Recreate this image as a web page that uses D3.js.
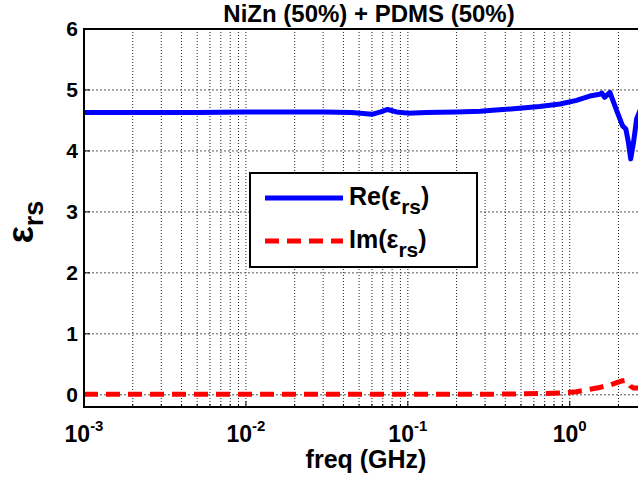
<!DOCTYPE html>
<html>
<head>
<meta charset="utf-8">
<script src="https://cdn.jsdelivr.net/npm/d3@7.9.0/dist/d3.min.js"></script>
<style>
  body { margin: 0; background: #fff; }
  svg { display: block; font-family: "Liberation Sans", Arial, sans-serif; font-weight: bold; }
</style>
</head>
<body>
<svg width="638" height="484"></svg>
<script>
const freq = [0.001, 0.002, 0.005, 0.01, 0.02, 0.03, 0.045, 0.06, 0.068, 0.075, 0.085, 0.1, 0.13, 0.2, 0.28, 0.35, 0.49, 0.65, 0.87, 1.1, 1.33, 1.53, 1.58, 1.64, 1.77, 1.95, 2.12, 2.22, 2.3, 2.38, 2.48, 2.59, 2.8, 3.0];
const reEps = [4.63, 4.63, 4.63, 4.64, 4.64, 4.64, 4.63, 4.60, 4.64, 4.68, 4.64, 4.62, 4.63, 4.64, 4.65, 4.67, 4.70, 4.73, 4.77, 4.83, 4.90, 4.93, 4.95, 4.88, 4.96, 4.66, 4.41, 4.36, 4.15, 3.87, 4.15, 4.53, 4.75, 4.82];
const imEps = [0.01, 0.01, 0.01, 0.01, 0.01, 0.01, 0.01, 0.01, 0.01, 0.01, 0.01, 0.01, 0.01, 0.01, 0.01, 0.01, 0.015, 0.02, 0.03, 0.05, 0.09, 0.12, 0.13, 0.14, 0.16, 0.2, 0.23, 0.24, 0.2, 0.14, 0.11, 0.11, 0.12, 0.14];
const yTicks = [0, 1, 2, 3, 4, 5, 6];
const xTicks = [0.001, 0.01, 0.1, 1];
const xExp = ['-3', '-2', '-1', '0'];

const svg = d3.select('svg');
const m = { left: 84, top: 29, right: 647, bottom: 407 };

const x = d3.scaleLog().domain([0.001, 3]).range([m.left, m.right]);
const y = d3.scaleLinear().domain([-0.2, 6]).range([m.bottom, m.top]);

// grid
let minor = [];
[0.001, 0.01, 0.1, 1].forEach(d => {
  for (let k = 1; k <= 9; k++) if (d * k <= 3) minor.push(d * k);
});
svg.append('g').selectAll('line').data(minor.filter(d => d > 0.001)).join('line')
  .attr('x1', d => x(d)).attr('x2', d => x(d))
  .attr('y1', m.top).attr('y2', m.bottom)
  .attr('stroke', '#222').attr('stroke-width', 1).attr('stroke-dasharray', '1,2');
svg.append('g').selectAll('line').data(yTicks.slice(0, -1)).join('line')
  .attr('x1', m.left).attr('x2', m.right)
  .attr('y1', d => y(d)).attr('y2', d => y(d))
  .attr('stroke', '#555').attr('stroke-width', 1).attr('stroke-dasharray', '2,2');

// tick marks inside
svg.append('g').selectAll('line').data(yTicks).join('line')
  .attr('x1', m.left).attr('x2', m.left + 6)
  .attr('y1', d => y(d)).attr('y2', d => y(d))
  .attr('stroke', '#000').attr('stroke-width', 1);
svg.append('g').selectAll('line').data(minor).join('line')
  .attr('x1', d => x(d)).attr('x2', d => x(d))
  .attr('y1', m.bottom).attr('y2', d => xTicks.includes(d) ? m.bottom - 6 : m.bottom - 3)
  .attr('stroke', '#000').attr('stroke-width', 1);

// lines
const line = (vals) => d3.line().x((d, i) => x(freq[i])).y(d => y(d))(vals);
svg.append('path').attr('d', line(reEps))
  .attr('fill', 'none').attr('stroke', '#0000ff').attr('stroke-width', 5)
  .attr('stroke-linejoin', 'round');
svg.append('path').attr('d', line(imEps))
  .attr('fill', 'none').attr('stroke', '#ff0000').attr('stroke-width', 5)
  .attr('stroke-dasharray', '14,8');

// axes box
svg.append('path')
  .attr('d', `M${m.right},${m.top}H${m.left}V${m.bottom}H${m.right}`)
  .attr('fill', 'none').attr('stroke', '#000').attr('stroke-width', 2);

// y tick labels
svg.append('g').selectAll('text').data(yTicks).join('text')
  .attr('x', m.left - 6).attr('y', d => y(d) + 7)
  .attr('text-anchor', 'end').attr('font-size', 21)
  .text(d => d);

// x tick labels
xTicks.forEach((d, i) => {
  const t = svg.append('text')
    .attr('x', x(d)).attr('y', 442)
    .attr('text-anchor', 'middle').attr('font-size', 23);
  t.append('tspan').text('10');
  t.append('tspan').attr('font-size', 15).attr('dy', -11).text(xExp[i]);
});

// title and labels
svg.append('text').attr('x', 369).attr('y', 22)
  .attr('text-anchor', 'middle').attr('font-size', 24)
  .text('NiZn (50%) + PDMS (50%)');
svg.append('text').attr('x', 366).attr('y', 468)
  .attr('text-anchor', 'middle').attr('font-size', 25)
  .text('freq (GHz)');
const yl = svg.append('text')
  .attr('transform', 'translate(33,222) rotate(-90)')
  .attr('text-anchor', 'middle');
yl.append('tspan').attr('font-size', 36).text('ε');
yl.append('tspan').attr('font-size', 27).attr('dy', 10).text('rs');

// legend
const lg = svg.append('g');
lg.append('rect').attr('x', 250).attr('y', 173).attr('width', 227).attr('height', 94)
  .attr('fill', '#fff').attr('stroke', '#000').attr('stroke-width', 2);
const items = [
  { label: 'Re', color: '#0000ff', dash: null, yy: 198 },
  { label: 'Im', color: '#ff0000', dash: '14,8', yy: 241 }
];
items.forEach(it => {
  lg.append('line').attr('x1', 265).attr('x2', 343).attr('y1', it.yy).attr('y2', it.yy)
    .attr('stroke', it.color).attr('stroke-width', 5)
    .attr('stroke-dasharray', it.dash);
  const t = lg.append('text').attr('x', 349).attr('y', it.yy + 7).attr('font-size', 25);
  t.append('tspan').text(it.label + '(ε');
  t.append('tspan').attr('font-size', 21).attr('dy', 9).text('rs');
  t.append('tspan').attr('dy', -9).text(')');
});
</script>
</body>
</html>
